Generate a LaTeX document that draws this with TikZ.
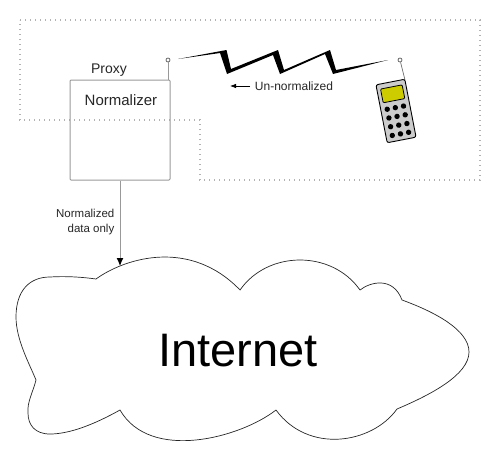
\documentclass[tikz,border=0pt]{standalone}
\usepackage{fontspec}
\setmainfont{Liberation Sans}
\usetikzlibrary{arrows.meta}
\definecolor{wiregray}{gray}{.6}
\definecolor{lcdyellow}{RGB}{204,204,0}
\definecolor{casegray}{gray}{.8}
\tikzset{
  lbl/.style={text=black!85,inner sep=0pt},
  wire/.style={draw=wiregray,line width=1pt},
  aerial/.style={draw=black!60,line width=.8pt,inner sep=0pt,minimum size=4pt,circle},
}
\begin{document}
\begin{tikzpicture}[>=Latex,x=1pt,y=-1pt]
\useasboundingbox (0,0) rectangle (500,450);
\draw[gray!60,line width=1.3pt,dash pattern=on 1.3pt off 3.7pt] (20,20)--(480,20)--(480,180)--(200,180)--(200,120)--(20,120)--cycle;
\node[wire,rounded corners=1pt,minimum size=100pt,inner sep=0pt] (proxy) at (120,130){};
\node[lbl,font=\fontsize{14}{16}\selectfont] (proxylbl) at (109,70){Proxy};
\node[lbl,font=\fontsize{15}{17}\selectfont] (normlbl) at (121,100){Normalizer};
\node[aerial] (tip1) at (168,60){};\draw[wire] (tip1)--(168,80);
\fill (178,59)--(226.5,50)--(231,69)--(278,50)--(284,70)--(330,50)--(336,70)--(388,60)--(333,74)--(325,54)--(280,74)--(273,55)--(227,74)--(220,53)--cycle;
\node[lbl,font=\fontsize{12}{14}\selectfont] (unnorm) at (294,86){Un-normalized};
\coordinate (unA) at (250,86);\coordinate (unB) at (230,86);
\draw[->,line width=.7pt] (unA)--(unB);
\node[aerial] (tip2) at (400,60){};\coordinate (phonetop) at (405,80);\draw[black!60,line width=.7pt] (tip2)--(phonetop);
\begin{scope}[shift={(396,111)},rotate=11]
\draw[fill=casegray,line width=.9pt,rounded corners=2pt] (-14.7,-29.5) rectangle (14.7,29.5);
\draw[fill=lcdyellow,line width=.8pt,rounded corners=1pt] (-11,-24.5) rectangle (11,-10.5);
\foreach \i in {0,1,2,3}{\foreach \j in {-1,0,1}{\fill (\j*8.3,-3.4+\i*8.9) circle (2.7);}}
\end{scope}
\draw[line width=.7pt,draw=black!85] (96,279) .. controls (125,258) and (190,238) .. (240,290)
 .. controls (268,250) and (332,250) .. (360,290)
 .. controls (370,282) and (393,276) .. (402,300)
 .. controls (435,312) and (469,330) .. (469,352)
 .. controls (469,375) and (430,395) .. (397,409)
 .. controls (372,444) and (308,454) .. (276,410)
 .. controls (240,438) and (150,462) .. (120,410)
 .. controls (95,424) and (70,434) .. (50,434)
 .. controls (35,434) and (28,425) .. (28,413)
 .. controls (27,402) and (33,392) .. (36,380)
 .. controls (30,365) and (16,340) .. (16,317)
 .. controls (16,290) and (30,277) .. (50,277)
 .. controls (65,276) and (82,277) .. (96,279);
\node[font=\fontsize{47}{50}\selectfont,inner sep=0pt] (internet) at (238,351){Internet};
\coordinate (cloudtop) at (120,266);
\draw[wire,-{Latex[black,length=8pt,width=7pt]}] (proxy.south)--(cloudtop);
\node[lbl,font=\fontsize{11.5}{15}\selectfont,align=right,anchor=east] (datalbl) at (114.5,222.5){Normalized\\data only};
\end{tikzpicture}
\end{document}
